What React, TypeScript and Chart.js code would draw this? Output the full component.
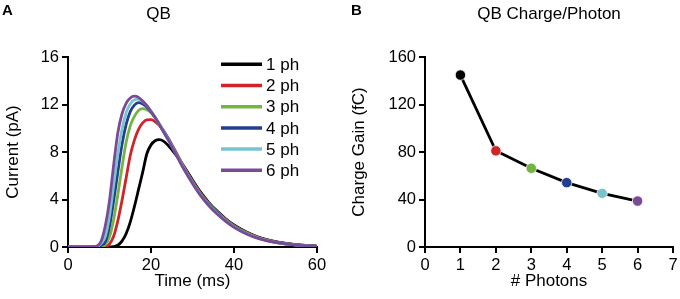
import React, { useEffect, useRef } from 'react';
import { Chart, registerables } from 'chart.js';

Chart.register(...registerables);

// ---------- Data ----------
const TIME_MS = [0, 2, 4, 6, 7, 8, 9, 10, 11, 12, 13, 14, 15, 16, 17, 18, 19, 20, 21, 22, 23, 24, 26, 28, 30, 32, 34, 36, 38, 40, 43, 46, 50, 55, 60];

const PH1 = [0, 0, 0, 0, 0, 0, 0, 0, 0.03, 0.15, 0.5, 1.12, 2.1, 3.4, 4.85, 6.3, 7.85, 8.6, 8.95, 9.04, 8.92, 8.6, 7.75, 6.75, 5.65, 4.6, 3.72, 3.0, 2.38, 1.85, 1.26, 0.82, 0.45, 0.2, 0.08];
const PH2 = [0, 0, 0, 0, 0, 0, 0.02, 0.25, 0.9, 2.2, 3.9, 5.8, 7.7, 9.0, 9.9, 10.45, 10.7, 10.72, 10.55, 10.25, 9.8, 9.25, 8.0, 6.7, 5.55, 4.5, 3.65, 2.95, 2.33, 1.8, 1.22, 0.78, 0.43, 0.19, 0.07];
const PH3 = [0, 0, 0, 0, 0, 0.02, 0.2, 0.85, 2.3, 4.4, 6.7, 8.8, 10.2, 11.0, 11.5, 11.65, 11.55, 11.3, 10.85, 10.35, 9.8, 9.22, 7.95, 6.65, 5.5, 4.45, 3.6, 2.9, 2.3, 1.77, 1.19, 0.76, 0.42, 0.18, 0.06];
const PH4 = [0, 0, 0, 0, 0.02, 0.15, 0.45, 1.75, 3.9, 6.3, 8.6, 10.3, 11.4, 11.95, 12.15, 12.05, 11.8, 11.4, 10.9, 10.35, 9.78, 9.2, 7.9, 6.6, 5.45, 4.4, 3.55, 2.85, 2.25, 1.73, 1.16, 0.74, 0.4, 0.17, 0.06];
const PH5 = [0, 0, 0, 0, 0.05, 0.3, 0.9, 2.6, 5.2, 7.8, 9.9, 11.3, 12.05, 12.4, 12.45, 12.25, 11.9, 11.45, 10.9, 10.35, 9.75, 9.15, 7.85, 6.55, 5.4, 4.35, 3.5, 2.8, 2.2, 1.7, 1.13, 0.72, 0.39, 0.16, 0.05];
const PH6 = [0, 0, 0, 0.02, 0.08, 0.5, 1.8, 3.9, 6.9, 9.6, 11.2, 12.1, 12.55, 12.7, 12.6, 12.3, 11.9, 11.4, 10.9, 10.3, 9.7, 9.1, 7.8, 6.5, 5.35, 4.3, 3.45, 2.75, 2.15, 1.65, 1.1, 0.7, 0.38, 0.15, 0.05];

const SERIES_LABELS = ['1 ph', '2 ph', '3 ph', '4 ph', '5 ph', '6 ph'];
const SERIES_COLORS = ['#000000', '#d0232a', '#74b443', '#213f8e', '#78c3cf', '#7a4a96'];
const SERIES_VALUES = [PH1, PH2, PH3, PH4, PH5, PH6];

const PHOTONS = [1, 2, 3, 4, 5, 6];
const CHARGE_GAIN = [144.8, 81, 66.3, 54.2, 45.2, 38.7];

const FONT_FAMILY = "'Liberation Sans', Arial, Helvetica, sans-serif";
const TICK_SIZE = 16.5;
const LABEL_SIZE = 17;

// ---------- helpers ----------
function makeAxis(opts: {
  min: number; max: number; step: number; title: string; titlePad: any; isX: boolean; fitSize: number;
}) {
  return {
    type: 'linear',
    min: opts.min,
    max: opts.max,
    ticks: { stepSize: opts.step, color: '#000', font: { size: TICK_SIZE, family: FONT_FAMILY }, padding: 3 },
    grid: { display: true, drawOnChartArea: false, drawTicks: true, tickLength: 6, color: '#000', lineWidth: 2 },
    border: { display: true, color: '#000', width: 2 },
    title: { display: true, text: opts.title, color: '#000', font: { size: LABEL_SIZE, family: FONT_FAMILY }, padding: opts.titlePad },
    afterFit: (scale: any) => {
      if (opts.isX) {
        scale.height = opts.fitSize;
        scale.paddingLeft = 0;
        scale.paddingRight = 0;
      } else {
        scale.width = opts.fitSize;
        scale.paddingTop = 0;
        scale.paddingBottom = 0;
      }
    },
  };
}

const inlineLegend = {
  id: 'inlineLegend',
  afterDatasetsDraw(chart: any, _args: any, o: any) {
    const ctx = chart.ctx;
    ctx.save();
    chart.data.datasets.forEach((ds: any, i: number) => {
      const y = o.y0 + i * o.dy;
      ctx.strokeStyle = ds.borderColor;
      ctx.lineWidth = 3.5;
      ctx.beginPath();
      ctx.moveTo(o.x0, y);
      ctx.lineTo(o.x1, y);
      ctx.stroke();
      ctx.fillStyle = '#000';
      ctx.font = `${LABEL_SIZE}px ${FONT_FAMILY}`;
      ctx.textBaseline = 'middle';
      ctx.textAlign = 'left';
      ctx.fillText(ds.label, o.textX, y + 1);
    });
    ctx.restore();
  },
};

function CurrentChart() {
  const ref = useRef<HTMLCanvasElement>(null);
  useEffect(() => {
    const datasets = SERIES_VALUES.map((vals, i) => ({
      label: SERIES_LABELS[i],
      data: TIME_MS.map((t, k) => ({ x: t, y: vals[k] })),
      borderColor: SERIES_COLORS[i],
      backgroundColor: SERIES_COLORS[i],
      borderWidth: 2.8,
      pointRadius: 0,
      cubicInterpolationMode: 'monotone',
      order: SERIES_VALUES.length - 1 - i,
    }));
    const chart = new Chart(ref.current as HTMLCanvasElement, {
      type: 'line',
      data: { datasets } as any,
      plugins: [inlineLegend],
      options: {
        responsive: false,
        animation: false,
        devicePixelRatio: 1,
        layout: { padding: { left: 0, right: 23, top: 0, bottom: 0 } },
        scales: {
          x: makeAxis({ min: 0, max: 60, step: 20, title: 'Time (ms)', titlePad: { top: 0, bottom: 7.3 }, isX: true, fitSize: 52 }) as any,
          y: makeAxis({ min: 0, max: 16, step: 4, title: 'Current (pA)', titlePad: { top: 3.5, bottom: 0 }, isX: false, fitSize: 68 }) as any,
        },
        plugins: {
          legend: { display: false },
          tooltip: { enabled: false },
          title: {
            display: true,
            text: 'QB',
            color: '#000',
            font: { size: LABEL_SIZE, weight: 'normal', family: FONT_FAMILY },
            padding: { top: 3.8, bottom: 32.8 },
            fullSize: true,
          },
          inlineLegend: { x0: 221, x1: 262, textX: 266, y0: 64.3, dy: 21.2 },
        } as any,
      },
    });
    return () => chart.destroy();
  }, []);
  return <canvas ref={ref} width={340} height={299} style={{ position: 'absolute', left: 0, top: 0 }} />;
}

function ChargeChart() {
  const ref = useRef<HTMLCanvasElement>(null);
  useEffect(() => {
    const pointColors = PHOTONS.map((_, i) => SERIES_COLORS[i]);
    const chart = new Chart(ref.current as HTMLCanvasElement, {
      type: 'line',
      data: {
        datasets: [
          {
            label: 'Charge Gain',
            data: PHOTONS.map((p, i) => ({ x: p, y: CHARGE_GAIN[i] })),
            borderColor: '#000',
            borderWidth: 2.8,
            tension: 0,
            pointRadius: 5.2,
            pointBackgroundColor: pointColors,
            pointBorderColor: '#ffffff',
            pointBorderWidth: 0.8,
          },
        ],
      } as any,
      options: {
        responsive: false,
        animation: false,
        devicePixelRatio: 1,
        layout: { padding: { left: 0, right: 7, top: 0, bottom: 0 } },
        scales: {
          x: makeAxis({ min: 0, max: 7, step: 1, title: '# Photons', titlePad: { top: 0, bottom: 7 }, isX: true, fitSize: 52 }) as any,
          y: makeAxis({ min: 0, max: 160, step: 40, title: 'Charge Gain (fC)', titlePad: { top: 8.8, bottom: 0 }, isX: false, fitSize: 85 }) as any,
        },
        plugins: {
          legend: { display: false },
          tooltip: { enabled: false },
          title: {
            display: true,
            text: 'QB Charge/Photon',
            color: '#000',
            font: { size: LABEL_SIZE, weight: 'normal', family: FONT_FAMILY },
            padding: { top: 3.8, bottom: 32.8 },
            fullSize: false,
          },
        } as any,
      },
    });
    return () => chart.destroy();
  }, []);
  return <canvas ref={ref} width={340} height={299} style={{ position: 'absolute', left: 340, top: 0 }} />;
}

const panelLabel: React.CSSProperties = {
  position: 'absolute',
  fontFamily: FONT_FAMILY,
  fontWeight: 'bold',
  fontSize: 15,
  lineHeight: '15px',
  color: '#000',
};

export default function App() {
  return (
    <div style={{ position: 'absolute', left: 0, top: 0, width: 680, height: 299, background: '#fff', overflow: 'hidden' }}>
      <CurrentChart />
      <ChargeChart />
      <div style={{ ...panelLabel, left: 2, top: 2 }}>A</div>
      <div style={{ ...panelLabel, left: 351, top: 2 }}>B</div>
    </div>
  );
}
